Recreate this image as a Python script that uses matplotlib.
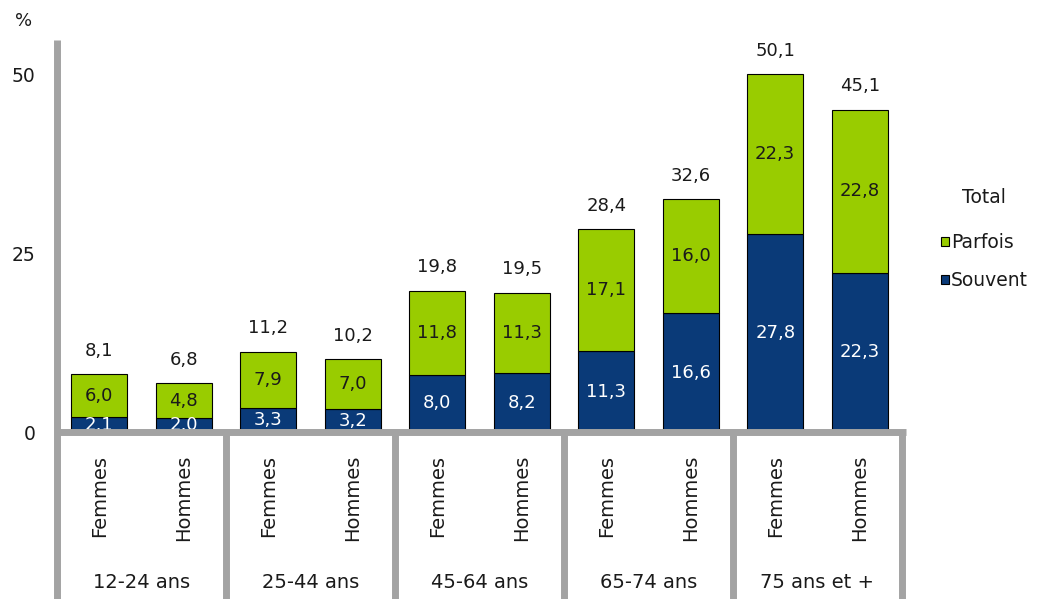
import matplotlib
matplotlib.use("Agg")
import matplotlib.pyplot as plt
import matplotlib.transforms as mtransforms
from matplotlib.patches import Patch

plt.rcParams['font.family'] = ['DejaVu Sans']

groups = ["12-24 ans", "25-44 ans", "45-64 ans", "65-74 ans", "75 ans et +"]
sexes = ["Femmes", "Hommes"]
souvent = [2.1, 2.0, 3.3, 3.2, 8.0, 8.2, 11.3, 16.6, 27.8, 22.3]
parfois = [6.0, 4.8, 7.9, 7.0, 11.8, 11.3, 17.1, 16.0, 22.3, 22.8]
totals = [8.1, 6.8, 11.2, 10.2, 19.8, 19.5, 28.4, 32.6, 50.1, 45.1]
yticks = [0, 25, 50]

W, H = 1038, 599
fig = plt.figure(figsize=(W / 100, H / 100), dpi=100)
ax_left, ax_right, ax_top, ax_bottom = 57, 902, 40, 432
ax = fig.add_axes([ax_left / W, (H - ax_bottom) / H, (ax_right - ax_left) / W, (ax_bottom - ax_top) / H])

GREEN = "#99cc00"
NAVY = "#0a3a78"
GRAY = "#a3a3a3"
TXT = "#1a1a1a"

x = list(range(len(souvent)))
bw = 0.66
ax.bar(x, souvent, width=bw, color=NAVY, edgecolor="black", linewidth=0.8, zorder=2)
ax.bar(x, parfois, width=bw, bottom=souvent, color=GREEN, edgecolor="black", linewidth=0.8, zorder=2)

ypx = 357 / 50.0
ax.set_xlim(-0.5, len(x) - 0.5)
ax.set_ylim(0, (ax_bottom - ax_top) / ypx)

def fmt(v):
    return f"{v:.1f}".replace(".", ",")

fs = 13
for i in x:
    s, p, t = souvent[i], parfois[i], totals[i]
    ax.text(i, s / 2, fmt(s), ha="center", va="center", color="white", fontsize=fs, zorder=3)
    ax.text(i, s + p / 2, fmt(p), ha="center", va="center", color=TXT, fontsize=fs, zorder=3)
    ax.annotate(fmt(t), (i, t), xytext=(0, 17), textcoords="offset points",
                ha="center", va="center", color=TXT, fontsize=fs)

for side in ["top", "right", "bottom", "left"]:
    ax.spines[side].set_visible(False)
ax.set_xticks([])
ax.set_yticks(yticks)
ax.set_yticklabels([str(v) for v in yticks], fontsize=13.5, color=TXT)
ax.tick_params(axis="y", length=0, pad=15.5)

trans = mtransforms.blended_transform_factory(ax.transData, ax.transAxes)
def ay(py):
    return (ax_bottom - py) / (ax_bottom - ax_top)

lw = 5.0
# left axis line
ax.plot([-0.5, -0.5], [ay(H + 5), 1.0], color=GRAY, lw=lw, transform=trans, clip_on=False, zorder=1, solid_capstyle="butt")
# zero line
ax.plot([-0.5, len(x) - 0.5 + 0.05], [0, 0], color=GRAY, lw=lw, transform=trans, clip_on=False, zorder=4, solid_capstyle="butt")
# group separators
for g in range(1, len(groups) + 1):
    xs = 2 * g - 0.5
    ax.plot([xs, xs], [ay(H + 5), 0], color=GRAY, lw=lw, transform=trans, clip_on=False, zorder=1, solid_capstyle="butt")

for i in x:
    ax.text(i, ay(455), sexes[i % 2], rotation=90, ha="center", va="top", fontsize=14,
            color=TXT, transform=trans)
for g, name in enumerate(groups):
    ax.text(2 * g + 0.5, ay(582), name, ha="center", va="center", fontsize=14,
            color=TXT, transform=trans)

fig.text(24 / W, 1 - 21 / H, "%", ha="center", va="center", fontsize=13, color=TXT)

handles = [Patch(facecolor=GREEN, edgecolor="black", linewidth=0.8),
           Patch(facecolor=NAVY, edgecolor="black", linewidth=0.8)]
leg = fig.legend(handles, ["Parfois", "Souvent"], title="Total", loc="upper left",
                 bbox_to_anchor=(941 / W, 1 - 188 / H), frameon=False, fontsize=13.5,
                 title_fontsize=13.5, handlelength=0.4, handleheight=0.4, handletextpad=0.12,
                 labelspacing=1.0, borderpad=0, borderaxespad=0)
leg._legend_box.sep = 19
for t in leg.get_texts():
    t.set_color(TXT)
leg.get_title().set_color(TXT)

fig.savefig("out.png", dpi=100)
